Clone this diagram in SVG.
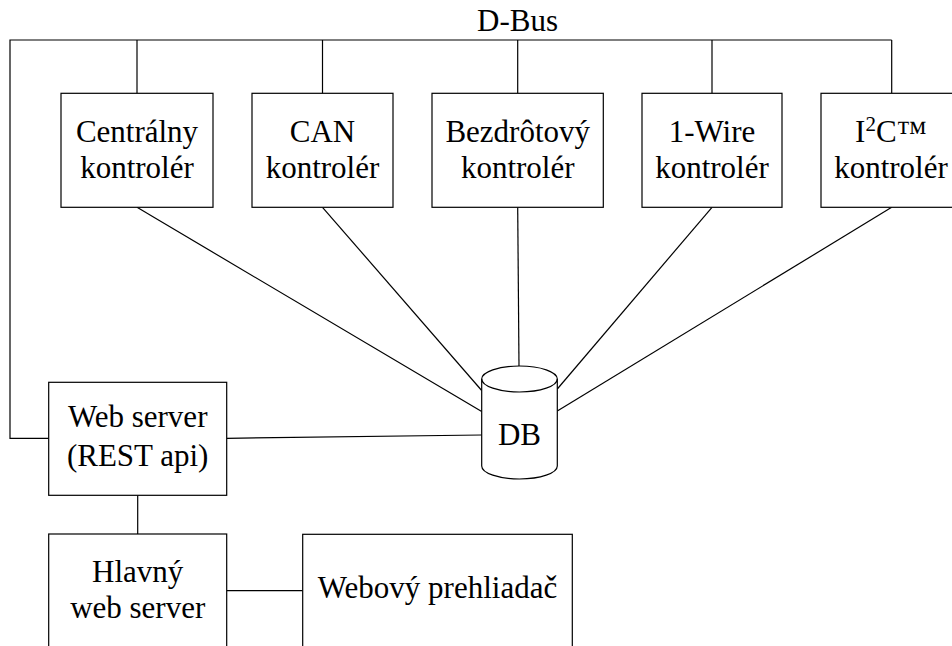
<svg xmlns="http://www.w3.org/2000/svg" width="952" height="646" viewBox="0 0 952 646">
<style>
.box{fill:#fff;stroke:#000;stroke-width:1.2}
.ln{fill:none;stroke:#000;stroke-width:1.2}
.t{font-family:"Liberation Serif","Times New Roman",serif;font-size:31px;fill:#000;text-anchor:middle}
</style>
<rect width="952" height="646" fill="#fff"/>
<g id="connectors">
<polyline class="ln" points="48.7,438.3 10,438.3 10,40 891.7,40"/>
<line class="ln" x1="137" y1="40" x2="137" y2="93.3"/>
<line class="ln" x1="322.5" y1="40" x2="322.5" y2="93.3"/>
<line class="ln" x1="517.7" y1="40" x2="517.7" y2="93.3"/>
<line class="ln" x1="712" y1="40" x2="712" y2="93.3"/>
<line class="ln" x1="891.7" y1="40" x2="891.7" y2="93.3"/>
<line class="ln" x1="137" y1="207.3" x2="481.7" y2="411.6"/>
<line class="ln" x1="322.5" y1="207.3" x2="481.7" y2="390.5"/>
<line class="ln" x1="517.7" y1="207.3" x2="519" y2="366"/>
<line class="ln" x1="712" y1="207.3" x2="557.3" y2="389"/>
<line class="ln" x1="891.7" y1="207.3" x2="557.3" y2="411"/>
<line class="ln" x1="226.7" y1="438.3" x2="481.7" y2="435"/>
<line class="ln" x1="137.7" y1="495.3" x2="137.7" y2="534"/>
<line class="ln" x1="226.7" y1="590.7" x2="302.7" y2="590.7"/>
</g>
<text class="t" x="517.5" y="31">D-Bus</text>
<g id="centralny">
<rect class="box" x="61" y="93.3" width="152" height="114"/>
<text class="t" x="137" y="141.5">Centrálny</text>
<text class="t" x="137" y="177.5">kontrolér</text>
</g>
<g id="can">
<rect class="box" x="252" y="93.3" width="141" height="114"/>
<text class="t" x="322.5" y="141.5">CAN</text>
<text class="t" x="322.5" y="177.5">kontrolér</text>
</g>
<g id="bezdrotovy">
<rect class="box" x="432" y="93.3" width="171.3" height="114"/>
<text class="t" x="517.7" y="141.5">Bezdrôtový</text>
<text class="t" x="517.7" y="177.5">kontrolér</text>
</g>
<g id="onewire">
<rect class="box" x="642" y="93.3" width="140" height="114"/>
<text class="t" x="712" y="141.5">1-Wire</text>
<text class="t" x="712" y="177.5">kontrolér</text>
</g>
<g id="i2c">
<rect class="box" x="821" y="93.3" width="141.4" height="114"/>
<text class="t" x="891" y="141.5">I<tspan font-size="21" dy="-11">2</tspan><tspan dy="11">C™</tspan></text>
<text class="t" x="891" y="177.5">kontrolér</text>
</g>
<g id="db">
<path class="box" d="M481.7,379 L481.7,466 A37.8,13 0 0 0 557.3,466 L557.3,379 A37.8,13 0 0 0 481.7,379 Z"/>
<path class="ln" d="M481.7,379 A37.8,13 0 0 0 557.3,379"/>
<text class="t" x="519.5" y="445">DB</text>
</g>
<g id="webserver">
<rect class="box" x="48.7" y="382.3" width="178" height="113"/>
<text class="t" x="137.7" y="427">Web server</text>
<text class="t" x="137.7" y="465.5">(REST api)</text>
</g>
<g id="hlavny">
<rect class="box" x="48.7" y="534" width="178" height="114"/>
<text class="t" x="137.7" y="581.7">Hlavný</text>
<text class="t" x="137.7" y="618.3">web server</text>
</g>
<g id="prehliadac">
<rect class="box" x="302.7" y="534.3" width="269.6" height="114"/>
<text class="t" x="437.5" y="598.3">Webový prehliadač</text>
</g>
</svg>
